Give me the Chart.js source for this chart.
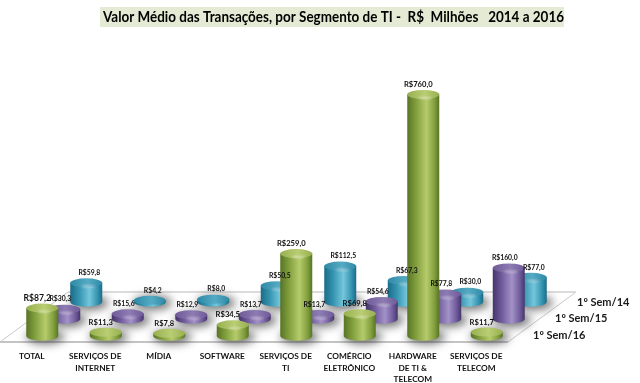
<!DOCTYPE html>
<html>
<head>
<meta charset="utf-8">
<title>Valor Médio das Transações</title>
<script src="https://cdn.jsdelivr.net/npm/chart.js@4"></script>
<style>
    body { margin: 0; background: #fff; }
    canvas { display: block; filter: blur(0.3px); }
</style>
</head>
<body>
<canvas id="chart" width="640" height="383"></canvas>
<script>
// Data ================================================================================================================
const chartTitle = 'Valor Médio das Transações, por Segmento de TI -  R$  Milhões   2014 a 2016';
const categories = [
    ['TOTAL'],
    ['SERVIÇOS DE', 'INTERNET'],
    ['MÍDIA'],
    ['SOFTWARE'],
    ['SERVIÇOS DE', 'TI'],
    ['COMÉRCIO', 'ELETRÔNICO'],
    ['HARDWARE', 'DE TI &', 'TELECOM'],
    ['SERVIÇOS DE', 'TELECOM']
];
const sem16 = [87.2, 11.3, 7.8, 34.5, 259.0, 69.8, 760.0, 11.7];
const sem15 = [30.3, 15.6, 12.9, 13.7, 13.7, 54.6, 77.8, 160.0];
const sem14 = [59.8, 4.2, 8.0, 50.5, 112.5, 67.3, 30.0, 77.0];

// Look ================================================================================================================
const palettes = [
    { edge: '#587425', mid: '#82a03e', light: '#b6cb6b', top: '#98b050', topLight: '#b9cd73' },
    { edge: '#46356b', mid: '#6f5b9b', light: '#a392c8', top: '#6f5b98', topLight: '#8d7bb3' },
    { edge: '#1a6c88', mid: '#3594b0', light: '#74c6db', top: '#2f8aa6', topLight: '#55aac3' }
];
const stepX = 22, stepY = 17;    // shift between the rows of the 3D floor
const rowX = 10.5, rowY = 10;    // shift of the front row from the front edge
const radiusY = 5;
const floorX = 68, floorY = 50;

const money = v => 'R$' + v.toFixed(1).replace('.', ',');
const basePoint = (x, base, depth) => ({ x: x + rowX + depth * stepX, y: base - rowY - depth * stepY });
const cylinderHeight = (y, base) => Math.max(1.5, base - y);

// Cylinder bars =======================================================================================================
class CylinderElement extends Chart.BarElement {
    static id = 'cylinder';
    static defaults = { depth: 0 };

    draw(ctx) {
        const { x, y, base, width } = this.getProps(['x', 'y', 'base', 'width']);
        const depth = this.options.depth;
        const p = palettes[depth];
        const c = basePoint(x, base, depth);
        const r = width / 2;
        const height = cylinderHeight(y, base);
        const top = c.y - height;

        const side = ctx.createLinearGradient(c.x - r, 0, c.x + r, 0);
        side.addColorStop(0, p.edge);
        side.addColorStop(0.28, p.mid);
        side.addColorStop(0.6, p.light);
        side.addColorStop(0.85, p.mid);
        side.addColorStop(1, p.edge);

        ctx.save();
        ctx.fillStyle = side;
        ctx.beginPath();
        ctx.moveTo(c.x - r, top);
        ctx.lineTo(c.x - r, c.y);
        ctx.ellipse(c.x, c.y, r, radiusY, 0, Math.PI, 0, true);
        ctx.lineTo(c.x + r, top);
        ctx.closePath();
        ctx.fill();

        const cap = ctx.createLinearGradient(c.x - r, 0, c.x + r, 0);
        cap.addColorStop(0, p.top);
        cap.addColorStop(0.55, p.topLight);
        cap.addColorStop(1, p.top);
        ctx.fillStyle = cap;
        ctx.beginPath();
        ctx.ellipse(c.x, top, r, radiusY - 0.5, 0, 0, Math.PI * 2);
        ctx.fill();

        // small shine under the rim, only where there is a side to put it on
        if (height > 4) {
            ctx.filter = 'blur(1px)';
            ctx.fillStyle = 'rgba(255,255,255,.5)';
            ctx.beginPath();
            ctx.ellipse(c.x + 2, top + 3.5, r * 0.42, 1, 0, 0, Math.PI * 2);
            ctx.fill();
        }
        ctx.restore();
    }
}

class CylinderController extends Chart.BarController {
    static id = 'cylinder';
    static defaults = { ...Chart.BarController.defaults, dataElementType: 'cylinder' };
    static overrides = Chart.BarController.overrides;
}

Chart.register(CylinderElement, CylinderController);

// Floor, shadows, labels ==============================================================================================
const floorPlugin = {
    id: 'floor',
    beforeDraw(chart) {
        // band behind the title
        const { ctx } = chart;
        ctx.fillStyle = '#e3ebd4';
        ctx.fillRect(100, 7, 464, 20);
    },
    afterLayout(chart) {
        chart.titleBlock.left = 103;
        chart.titleBlock.right = 564;
    },
    beforeDatasetsDraw(chart) {
        const { ctx, chartArea: a } = chart;
        ctx.save();
        ctx.lineCap = 'butt';
        ctx.strokeStyle = '#c9c9c9';
        ctx.lineWidth = 1;
        ctx.beginPath();
        ctx.moveTo(a.left, a.bottom);
        ctx.lineTo(a.left + floorX, a.bottom - floorY);
        ctx.moveTo(a.right, a.bottom);
        ctx.lineTo(a.right + floorX, a.bottom - floorY);
        ctx.stroke();
        ctx.strokeStyle = '#dcdcdc';
        ctx.lineWidth = 2;
        ctx.beginPath();
        ctx.moveTo(a.left + floorX, a.bottom - floorY);
        ctx.lineTo(a.right + floorX, a.bottom - floorY);
        ctx.stroke();
        ctx.strokeStyle = '#c4c4c4';
        ctx.beginPath();
        ctx.moveTo(a.left, a.bottom);
        ctx.lineTo(a.right, a.bottom);
        ctx.stroke();

        ctx.filter = 'blur(5px)';
        ctx.fillStyle = 'rgba(60,60,60,.75)';
        chart.data.datasets.forEach((ds, i) => {
            chart.getDatasetMeta(i).data.forEach(el => {
                const c = basePoint(el.x, el.base, ds.depth);
                ctx.beginPath();
                ctx.ellipse(c.x + 3, c.y + 1, el.width / 2 + 3, radiusY + 2, 0, 0, Math.PI * 2);
                ctx.fill();
            });
        });
        ctx.restore();
    },
    afterDatasetsDraw(chart) {
        const { ctx, chartArea: a } = chart;
        ctx.save();
        ctx.textAlign = 'center';
        ctx.textBaseline = 'middle';
        ctx.fillStyle = '#111';
        [2, 1, 0].forEach(i => {
            const ds = chart.data.datasets[i];
            chart.getDatasetMeta(i).data.forEach((el, k) => {
                const c = basePoint(el.x, el.base, ds.depth);
                const top = c.y - cylinderHeight(el.y, el.base) - radiusY;
                const size = ds.depth > 0 ? 6.8 : (k === 0 ? 8.6 : 7.6);
                ctx.font = 'bold ' + size + 'px Lato';
                ctx.fillText(money(ds.data[k]), c.x + [-5, -4, 3][ds.depth], top - 5);
            });
        });
        // row names on the right of the floor
        ctx.textAlign = 'left';
        ctx.font = 'bold 11px Lato';
        ctx.fillStyle = '#1a1a1a';
        chart.data.datasets.forEach(ds => {
            ctx.fillText(ds.label, a.right + 25 + ds.depth * stepX, a.bottom - 7 - ds.depth * 16.5);
        });
        ctx.restore();
    }
};

// Chart ===============================================================================================================
new Chart(document.getElementById('chart'), {
    type: 'cylinder',
    data: {
        labels: categories,
        datasets: [
            { label: '1º Sem/16', data: sem16, depth: 0 },
            { label: '1º Sem/15', data: sem15, depth: 1 },
            { label: '1º Sem/14', data: sem14, depth: 2 }
        ]
    },
    plugins: [floorPlugin],
    options: {
        responsive: false,
        animation: false,
        grouped: false,
        barThickness: 32,
        clip: false,
        layout: { padding: { right: 132 } },
        plugins: {
            legend: { display: false },
            tooltip: { enabled: false },
            title: {
                display: true,
                text: chartTitle,
                align: 'start',
                color: '#000',
                font: { family: 'Lato', size: 14.5, weight: 'bold', lineHeight: 1.2 },
                padding: { top: 9, bottom: 7 }
            }
        },
        scales: {
            x: {
                type: 'category',
                grid: { display: false },
                border: { display: false },
                afterFit: scale => { scale.height = 41; },
                ticks: {
                    autoSkip: false,
                    maxRotation: 0,
                    padding: 1,
                    color: '#111',
                    font: { family: 'Lato', size: 8.3, weight: 'bold', lineHeight: 1.38 }
                }
            },
            y: {
                type: 'linear',
                display: false,
                min: 12,
                max: 984
            }
        }
    }
});
// =====================================================================================================================
</script>
</body>
</html>
